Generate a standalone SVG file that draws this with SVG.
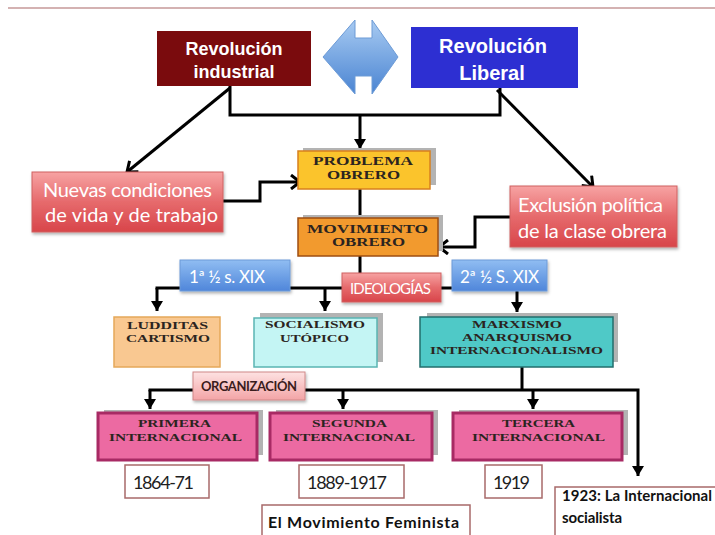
<svg xmlns="http://www.w3.org/2000/svg" width="715" height="535" viewBox="0 0 715 535">
<defs>
<linearGradient id="gRed" x1="0" y1="0" x2="0" y2="1"><stop offset="0" stop-color="#f7a3a3"/><stop offset="0.5" stop-color="#e66a6c"/><stop offset="1" stop-color="#d8454a"/></linearGradient>
<linearGradient id="gBlue" x1="0" y1="0" x2="0" y2="1"><stop offset="0" stop-color="#90bdf2"/><stop offset="1" stop-color="#4f86da"/></linearGradient>
<linearGradient id="gPink" x1="0" y1="0" x2="0" y2="1"><stop offset="0" stop-color="#fde2e2"/><stop offset="1" stop-color="#f3a4a6"/></linearGradient>
<linearGradient id="gArrow" x1="0" y1="0" x2="0" y2="1"><stop offset="0" stop-color="#a8cbf2"/><stop offset="1" stop-color="#4a84d2"/></linearGradient>
<filter id="sh" x="-10%" y="-10%" width="130%" height="140%"><feDropShadow dx="1" dy="2" stdDeviation="1.5" flood-color="#000" flood-opacity="0.3"/></filter>
<marker id="tri" markerUnits="userSpaceOnUse" markerWidth="14" markerHeight="14" viewBox="0 0 14 14" refX="12" refY="7" orient="auto"><path d="M2,1 L12,7 L2,13 Z" fill="#000"/></marker>
<marker id="chev" markerUnits="userSpaceOnUse" markerWidth="16" markerHeight="16" viewBox="0 0 16 16" refX="13" refY="8" orient="auto"><path d="M4,1 L13,8 L4,15" fill="none" stroke="#000" stroke-width="3"/></marker>
</defs>
<style>
.c{fill:none;stroke:#000;stroke-width:3}
.a{marker-end:url(#tri)}
.v{marker-end:url(#chev)}
.serif{font-family:"Liberation Serif","Times New Roman",serif;font-weight:bold;font-size:12px;fill:#2b2420;text-anchor:middle}
.s11{font-size:11px}
.sans{font-family:Lato,"Open Sans",sans-serif;text-anchor:middle}
.w{fill:#fff}
.arial{font-family:"Liberation Sans",Arial,sans-serif;font-weight:bold;fill:#fff;text-anchor:middle}
.shadow{fill:#b3b3b3}
.intl{fill:#ec6aa2;stroke:#a82a64;stroke-width:3}
.year{fill:#fff;stroke:#a86a6a;stroke-width:1.5}
.dk{fill:#1e1e1e}
</style>
<rect x="0" y="0" width="715" height="535" fill="#fff"/>
<line x1="8" y1="8" x2="715" y2="8" stroke="#d4b2b2" stroke-width="2"/>

<g id="connectors">
<polyline class="c" points="230,86 230,115 500,115 500,88"/>
<line class="c a" x1="360" y1="115" x2="360" y2="149"/>
<line class="c v" x1="230" y1="88" x2="127" y2="172"/>
<line class="c v" x1="497" y1="90" x2="593" y2="187"/>
<polyline class="c v" points="223,201 260,201 260,182 300,182"/>
<line class="c" x1="360" y1="189" x2="360" y2="218"/>
<polyline class="c v" points="510,217 475,217 475,247 439,247"/>
<line class="c" x1="360" y1="256" x2="360" y2="273"/>
<line class="c" x1="155.5" y1="288" x2="180" y2="288"/>
<line class="c a" x1="157" y1="288" x2="157" y2="311"/>
<line class="c" x1="290" y1="288" x2="342" y2="288"/>
<line class="c a" x1="325" y1="288" x2="325" y2="311"/>
<line class="c" x1="441" y1="288" x2="452" y2="288"/>
<line class="c a" x1="517" y1="291" x2="517" y2="312"/>
<line class="c" x1="522" y1="367" x2="522" y2="390"/>
<line class="c" x1="148.5" y1="390" x2="193" y2="390"/>
<line class="c a" x1="150" y1="390" x2="150" y2="409"/>
<polyline class="c a" points="305,390 638,390 638,476"/>
<line class="c a" x1="343" y1="390" x2="343" y2="409"/>
<line class="c a" x1="533" y1="390" x2="533" y2="409"/>
</g>

<g id="rev-industrial">
<rect x="157" y="31" width="154" height="55" fill="#7a0b0d"/>
<text class="arial" x="234" y="55" font-size="18">Revolución</text>
<text class="arial" x="234" y="78" font-size="18">industrial</text>
</g>

<g id="double-arrow">
<path d="M323,57 L355,20 L355,38 L372,38 L372,20 L398,57 L372,94 L372,76 L355,76 L355,94 Z" fill="url(#gArrow)" stroke="#6d9bd6" stroke-width="1"/>
</g>

<g id="rev-liberal">
<rect x="411" y="27" width="167" height="61" fill="#2d2fd2"/>
<text class="arial" x="493" y="53" font-size="20">Revolución</text>
<text class="arial" x="492" y="80" font-size="20">Liberal</text>
</g>

<g id="nuevas">
<rect x="32" y="172" width="191" height="60" fill="url(#gRed)" stroke="#d06060" stroke-width="1" filter="url(#sh)"/>
<text class="sans w" x="127.5" y="197" font-size="20" textLength="169">Nuevas condiciones</text>
<text class="sans w" x="131.5" y="222" font-size="20" textLength="173">de vida y de trabajo</text>
</g>

<g id="exclusion">
<rect x="510" y="186" width="167" height="61" fill="url(#gRed)" stroke="#d06060" stroke-width="1" filter="url(#sh)"/>
<text class="sans w" x="590.5" y="212" font-size="20" textLength="145">Exclusión política</text>
<text class="sans w" x="592.5" y="238" font-size="20" textLength="149">de la clase obrera</text>
</g>

<g id="problema">
<rect class="shadow" x="303" y="148" width="133" height="37"/>
<rect x="298" y="151" width="132" height="38" fill="#fbc42c" stroke="#d8801e" stroke-width="1.5"/>
<text class="serif" x="363" y="165" textLength="100" lengthAdjust="spacingAndGlyphs">PROBLEMA</text>
<text class="serif" x="363.5" y="179" textLength="73" lengthAdjust="spacingAndGlyphs">OBRERO</text>
</g>

<g id="movimiento">
<rect class="shadow" x="303" y="215" width="140" height="36"/>
<rect x="298" y="218" width="140" height="38" fill="#f29a2e" stroke="#9e4e12" stroke-width="1.5"/>
<text class="serif" x="367.5" y="233" textLength="121" lengthAdjust="spacingAndGlyphs">MOVIMIENTO</text>
<text class="serif" x="368.5" y="246" textLength="73" lengthAdjust="spacingAndGlyphs">OBRERO</text>
</g>

<g id="ideologias">
<rect x="342" y="273" width="99" height="29" fill="url(#gRed)" stroke="#d06060" stroke-width="1" filter="url(#sh)"/>
<text class="sans w" x="390.5" y="294" font-size="15" textLength="81">IDEOLOGÍAS</text>
</g>

<g id="mitad1">
<rect x="180" y="260" width="110" height="31" fill="url(#gBlue)" stroke="#6c9ad8" stroke-width="1" filter="url(#sh)"/>
<text class="sans w" x="227" y="283" font-size="17" textLength="76">1ª ½ s. XIX</text>
</g>

<g id="mitad2">
<rect x="452" y="260" width="95" height="31" fill="url(#gBlue)" stroke="#6c9ad8" stroke-width="1" filter="url(#sh)"/>
<text class="sans w" x="499.5" y="283" font-size="17" textLength="79">2ª ½ S. XIX</text>
</g>

<g id="ludditas">
<rect x="114" y="317" width="106" height="50" fill="#f9c891" stroke="#e5a85a" stroke-width="1.5"/>
<text class="serif s11" x="167.5" y="329" textLength="81" lengthAdjust="spacingAndGlyphs">LUDDITAS</text>
<text class="serif s11" x="168" y="342" textLength="84" lengthAdjust="spacingAndGlyphs">CARTISMO</text>
</g>

<g id="socialismo">
<rect class="shadow" x="260" y="313" width="123" height="49"/>
<rect x="254" y="318" width="123" height="49" fill="#c4f5f4" stroke="#5ab4b2" stroke-width="1.5"/>
<text class="serif s11" x="315" y="328" textLength="100" lengthAdjust="spacingAndGlyphs">SOCIALISMO</text>
<text class="serif s11" x="314.5" y="342" textLength="69" lengthAdjust="spacingAndGlyphs">UTÓPICO</text>
</g>

<g id="marxismo">
<rect class="shadow" x="427" y="313" width="191" height="49"/>
<rect x="420" y="317" width="193" height="50" fill="#4fc9c7" stroke="#226e6c" stroke-width="1.5"/>
<text class="serif s11" x="517" y="328" textLength="90" lengthAdjust="spacingAndGlyphs">MARXISMO</text>
<text class="serif s11" x="517" y="341" textLength="110" lengthAdjust="spacingAndGlyphs">ANARQUISMO</text>
<text class="serif s11" x="516.5" y="354" textLength="173" lengthAdjust="spacingAndGlyphs">INTERNACIONALISMO</text>
</g>

<g id="organizacion">
<rect x="193" y="372" width="112" height="28" fill="url(#gPink)" stroke="#d08888" stroke-width="1" filter="url(#sh)"/>
<text class="sans" x="249" y="391" font-size="13" font-weight="bold" fill="#3a1c1c" textLength="96">ORGANIZACIÓN</text>
</g>

<g id="primera">
<rect class="shadow" x="104" y="410" width="159" height="45"/>
<rect class="intl" x="98" y="413" width="159" height="47"/>
<text class="serif s11" x="174.5" y="427" textLength="73" lengthAdjust="spacingAndGlyphs">PRIMERA</text>
<text class="serif s11" x="175.5" y="441" textLength="133" lengthAdjust="spacingAndGlyphs">INTERNACIONAL</text>
</g>

<g id="segunda">
<rect class="shadow" x="276" y="410" width="162" height="45"/>
<rect class="intl" x="270" y="413" width="162" height="47"/>
<text class="serif s11" x="349.5" y="427" textLength="75" lengthAdjust="spacingAndGlyphs">SEGUNDA</text>
<text class="serif s11" x="349" y="441" textLength="132" lengthAdjust="spacingAndGlyphs">INTERNACIONAL</text>
</g>

<g id="tercera">
<rect class="shadow" x="459" y="410" width="169" height="45"/>
<rect class="intl" x="453" y="413" width="169" height="47"/>
<text class="serif s11" x="538.5" y="427" textLength="73" lengthAdjust="spacingAndGlyphs">TERCERA</text>
<text class="serif s11" x="538.5" y="441" textLength="133" lengthAdjust="spacingAndGlyphs">INTERNACIONAL</text>
</g>

<g id="y1864">
<rect class="year" x="125" y="465" width="84" height="33"/>
<text class="sans dk" x="163.5" y="489" font-size="18" textLength="61">1864-71</text>
</g>

<g id="y1889">
<rect class="year" x="299" y="465" width="105" height="33"/>
<text class="sans dk" x="347" y="489" font-size="18" textLength="80">1889-1917</text>
</g>

<g id="y1919">
<rect class="year" x="485" y="465" width="57" height="33"/>
<text class="sans dk" x="511.5" y="489" font-size="18" textLength="37">1919</text>
</g>

<g id="feminista">
<rect class="year" x="262" y="505" width="208" height="40"/>
<text x="268" y="528" font-family="Lato,'Open Sans',sans-serif" font-size="16" font-weight="bold" fill="#111" textLength="191">El Movimiento Feminista</text>
</g>

<g id="y1923">
<rect class="year" x="555" y="487" width="170" height="60"/>
<text x="562" y="501" font-family="Lato,'Open Sans',sans-serif" font-size="15" font-weight="bold" fill="#111" textLength="150">1923: La Internacional</text>
<text x="562" y="523" font-family="Lato,'Open Sans',sans-serif" font-size="15" font-weight="bold" fill="#111" textLength="60">socialista</text>
</g>
</svg>
